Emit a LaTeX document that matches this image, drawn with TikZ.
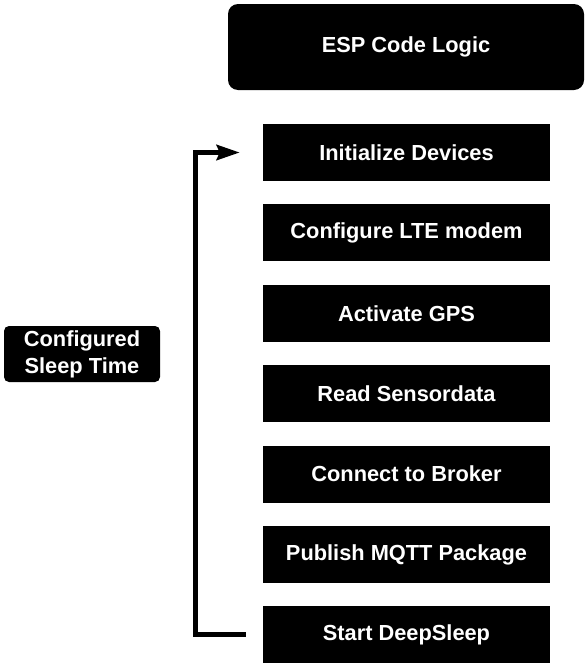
\documentclass[tikz,border=0pt]{standalone}
\usepackage{fontspec}
\setmainfont{Liberation Sans}
\usetikzlibrary{arrows.meta, positioning}

\begin{document}
\begin{tikzpicture}[x=1pt, y=-1pt,
    stepbox/.style={draw=none, fill=black, text=white, font=\fontsize{21.8}{27}\selectfont\bfseries,
                    minimum width=287pt, minimum height=57pt, inner sep=0pt},
    titlebox/.style={stepbox, minimum width=356pt, minimum height=86pt, rounded corners=10pt},
    sidebox/.style={stepbox, minimum width=156pt, minimum height=56pt, rounded corners=5pt, align=center},
    loop/.style={line width=5pt, -{Stealth[length=23pt, width=15pt, inset=3pt]}},
    node distance=23pt]
\useasboundingbox (0,0) rectangle (588,664);

\node[titlebox] (title) at (406,47) {ESP Code Logic};

\node[stepbox] (init) at (406.5,152.5) {Initialize Devices};
\node[stepbox, below=of init] (lte) {Configure LTE modem};
\node[stepbox, below=of lte] (gps) {Activate GPS};
\node[stepbox, below=of gps] (sensor) {Read Sensordata};
\node[stepbox, below=of sensor] (broker) {Connect to Broker};
\node[stepbox, below=of broker] (mqtt) {Publish MQTT Package};
\node[stepbox, below=of mqtt] (sleep) {Start DeepSleep};

\node[sidebox] (sleeptime) at (82,354) {Configured\\Sleep Time};

% back to the start after deep sleep
\draw[loop] ([xshift=-17pt]sleep.west) -- ++(-50,0) |- ([xshift=-23pt]init.west);
\end{tikzpicture}
\end{document}
